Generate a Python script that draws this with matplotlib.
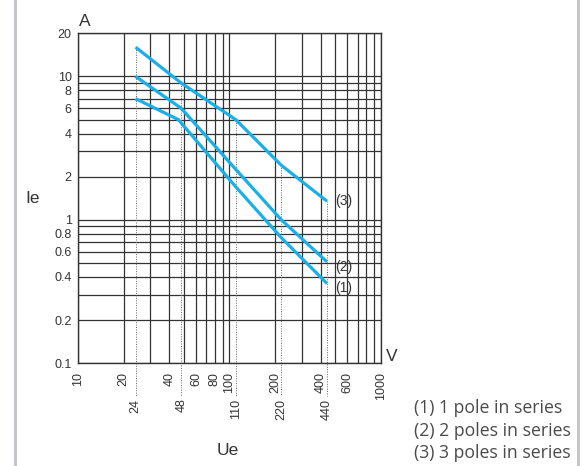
import numpy as np
import matplotlib.pyplot as plt
from matplotlib.ticker import LogLocator, NullFormatter, FixedLocator
from matplotlib.transforms import blended_transform_factory
from matplotlib.lines import Line2D

plt.rcParams['font.family'] = ['Liberation Sans', 'DejaVu Sans']

# Rated voltage (V) and current (A)
volts = [24, 48, 110, 220, 440]
volts_1 = [24, 46, 110, 220, 440]
current_1 = [7, 5, 1.7, 0.75, 0.36]
current_2 = [10, 6, 2.25, 1.0, 0.51]
current_3 = [16, 9, 5, 2.4, 1.35]

x_ticks = [10, 20, 40, 60, 80, 100, 200, 400, 600, 1000]
y_ticks = [0.1, 0.2, 0.4, 0.6, 0.8, 1, 2, 4, 6, 8, 10, 20]
y_labels = ['0.1', '0.2', '0.4', '0.6', '0.8', '1', '2', '4', '6', '8', '10', '20']
legend_lines = ['(1) 1 pole in series', '(2) 2 poles in series', '(3) 3 poles in series']

blue = '#1aafe6'
grid_col = '#333333'
txt_col = '#333333'

fig = plt.figure(figsize=(5.87, 4.66), dpi=100)
ax = fig.add_axes([78/587, 1 - 363.3/466, 303/587, 330/466])

ax.set_xscale('log')
ax.set_yscale('log')
ax.set_xlim(10, 1000)
ax.set_ylim(0.1, 20)

ax.xaxis.set_major_locator(FixedLocator(x_ticks))
ax.set_xticklabels([str(v) for v in x_ticks], rotation=90)
ax.xaxis.set_minor_locator(LogLocator(base=10, subs=np.arange(2, 10)))
ax.xaxis.set_minor_formatter(NullFormatter())
ax.yaxis.set_major_locator(FixedLocator(y_ticks))
ax.set_yticklabels(y_labels)
ax.yaxis.set_minor_locator(LogLocator(base=10, subs=np.arange(2, 10)))
ax.yaxis.set_minor_formatter(NullFormatter())

ax.tick_params(which='both', length=0, labelsize=9, colors=txt_col)
ax.tick_params(axis='x', pad=6.5)
ax.tick_params(axis='y', pad=4.5)
ax.grid(which='both', color=grid_col, lw=0.9)
for sp in ax.spines.values():
    sp.set_color(grid_col)
    sp.set_linewidth(1.0)

# dotted guide lines from curve (3) down below the axis
for v, top in zip(volts, current_3):
    ax.plot([v, v], [top, 0.059], ls=(0, (1, 1.5)), color='#666666', lw=0.7,
            clip_on=False, zorder=2)

trans = blended_transform_factory(ax.transData, ax.transAxes)
for v in volts:
    ax.text(v, -0.107, str(v), rotation=90, ha='center', va='top',
            fontsize=9, color=txt_col, transform=trans)

ax.plot(volts_1, current_1, color=blue, lw=2.3, solid_capstyle='butt', zorder=3)
ax.plot(volts, current_2, color=blue, lw=2.3, solid_capstyle='butt', zorder=3)
ax.plot(volts, current_3, color=blue, lw=2.3, solid_capstyle='butt', zorder=3)

ax.annotate('(3)', (volts[-1], current_3[-1]), xytext=(6, 0), textcoords='offset points',
            ha='left', va='center', fontsize=10, color=txt_col)
ax.annotate('(2)', (volts[-1], current_2[-1]), xytext=(6, -3.5), textcoords='offset points',
            ha='left', va='center', fontsize=10, color=txt_col)
ax.annotate('(1)', (volts[-1], current_1[-1]), xytext=(6, -3), textcoords='offset points',
            ha='left', va='center', fontsize=10, color=txt_col)

ax.text(0.021, 1.037, 'A', transform=ax.transAxes, ha='center', va='center',
        fontsize=12.5, color=txt_col)
ax.text(1.036, 0.022, 'V', transform=ax.transAxes, ha='center', va='center',
        fontsize=12.5, color=txt_col)
ax.text(-0.149, 0.5, 'Ie', transform=ax.transAxes, ha='center', va='center',
        fontsize=12.5, color=txt_col)
ax.text(0.495, -0.263, 'Ue', transform=ax.transAxes, ha='center', va='center',
        fontsize=12.5, color=txt_col)

for i, line in enumerate(legend_lines):
    fig.text(414/587, 1 - (408 + 22.5*i)/466, line, ha='left', va='center',
             fontsize=12.7, color='#4a4a4a', family=['Open Sans', 'DejaVu Sans'])

# light grey side borders of the figure frame
for xb in (15/587, 578/587):
    fig.add_artist(Line2D([xb, xb], [0, 1], color='#c4c4cc', lw=2.2))

fig.savefig('out.png', dpi=100)
